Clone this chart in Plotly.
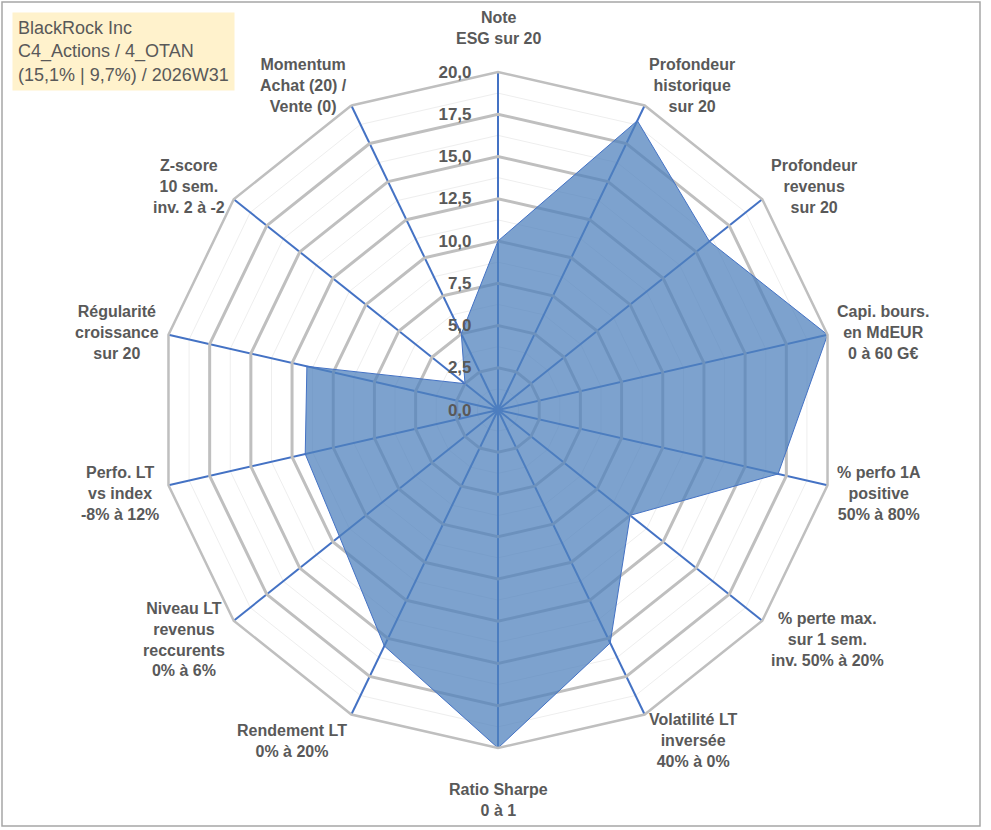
import math
import numpy as np
import plotly.graph_objects as go

# axes du radar (sens horaire depuis le haut)
categories = [
    "Note<br>ESG sur 20",
    "Profondeur<br>historique<br>sur 20",
    "Profondeur<br>revenus<br>sur 20",
    "Capi. bours.<br>en MdEUR<br>0 à 60 G€",
    "% perfo 1A<br>positive<br>50% à 80%",
    "% perte max.<br>sur 1 sem.<br>inv. 50% à 20%",
    "Volatilité LT<br>inversée<br>40% à 0%",
    "Ratio Sharpe<br>0 à 1",
    "Rendement LT<br>0% à 20%",
    "Niveau LT<br>revenus<br>reccurents<br>0% à 6%",
    "Perfo. LT<br>vs index<br>-8% à 12%",
    "Régularité<br>croissance<br>sur 20",
    "Z-score<br>10 sem.<br>inv. 2 à -2",
    "Momentum<br>Achat (20) /<br>Vente (0)",
]
scores = [10, 19, 16, 20, 17, 10, 15.3, 20, 15.5, 12, 11.7, 11.6, 2.5, 5]

title_lines = ["BlackRock Inc", "C4_Actions / 4_OTAN", "(15,1% | 9,7%) / 2026W31"]

W, H = 991, 830


def px(sx):
    return sx / W


def py(sy):
    return 1 - sy / H


cx, cy, R = 498, 410, 338  # centre et rayon à l'écran
dom_x = [px(cx - R), px(cx + R)]
dom_y = [py(cy + R), py(cy - R)]

TXT = "#595959"
GRAY = "#BFBFBF"
BLUE = "#4472C4"

fig = go.Figure()

r_closed = scores + scores[:1]
theta_closed = categories + categories[:1]

fig.add_trace(go.Scatterpolar(
    r=r_closed, theta=theta_closed, subplot="polar2",
    mode="lines", fill="toself",
    fillcolor="rgba(79,129,189,0.74)",
    line=dict(color=BLUE, width=1),
    hoverinfo="skip", showlegend=False,
))
# trace invisible pour porter le quadrillage secondaire
fig.add_trace(go.Scatterpolar(
    r=[0] * len(categories), theta=categories, subplot="polar",
    mode="markers", marker=dict(opacity=0), hoverinfo="skip", showlegend=False,
))

common_ang = dict(type="category", categoryorder="array", categoryarray=categories,
                  rotation=90, direction="clockwise")

fig.update_layout(
    width=W, height=H,
    margin=dict(l=0, r=0, t=0, b=0),
    paper_bgcolor="white",
    separators=", ",
    polar=dict(
        domain=dict(x=dom_x, y=dom_y),
        gridshape="linear", bgcolor="white",
        radialaxis=dict(range=[0, 20], dtick=1.25, showticklabels=False,
                        ticks="", showline=False, gridcolor="#EEEEEE", gridwidth=1),
        angularaxis=dict(**common_ang, showticklabels=False, ticks="",
                         showline=False, showgrid=False),
    ),
    polar2=dict(
        domain=dict(x=dom_x, y=dom_y),
        gridshape="linear", bgcolor="rgba(0,0,0,0)",
        radialaxis=dict(range=[0, 20], dtick=2.5, tickformat=".1f", angle=90,
                        tickangle=90, side="counterclockwise",
                        ticks="outside", ticklen=20, tickcolor="rgba(0,0,0,0)",
                        showline=False, gridcolor=GRAY, gridwidth=2.5,
                        tickfont=dict(family="Liberation Sans", size=17,
                                      color=TXT, weight="bold")),
        angularaxis=dict(**common_ang, ticks="", showticklabels=False,
                         showline=True, linecolor=GRAY, linewidth=2.5,
                         gridcolor=BLUE, gridwidth=1.5),
    ),
)

# libellés des axes, centrés ligne par ligne comme dans Excel
n = len(categories)
RX_LAB, RY_LAB = 331, 343
for i, lab in enumerate(categories):
    phi = math.radians(i * 360 / n)
    s, c = math.sin(phi), math.cos(phi)
    vx, vy = cx + RX_LAB * s, cy - RY_LAB * c
    if abs(s) < 0.1:
        x, xa = vx, "center"
        y = vy - (39 if c > 0 else -47)
    else:
        gap = float(np.interp(abs(s), [0.43, 0.78, 0.975], [5, 12, 14]))
        x = vx + gap * (1 if s > 0 else -1)
        y = vy + 3 - 21 * c
        xa = "left" if s > 0 else "right"
    fig.add_annotation(
        xref="paper", yref="paper", x=px(x), y=py(y),
        xanchor=xa, yanchor="middle", align="center",
        text=lab, showarrow=False,
        font=dict(family="Liberation Sans", size=16, color=TXT, weight="bold"),
    )

# cartouche en haut à gauche
fig.add_annotation(
    xref="paper", yref="paper", x=px(12), y=py(12),
    xanchor="left", yanchor="top", align="left",
    text="<br>".join(title_lines), showarrow=False,
    font=dict(family="Liberation Sans", size=18, color=TXT),
    bgcolor="#FFF2CC", borderpad=5,
)

# cadre du graphique
fig.add_shape(type="rect", xref="paper", yref="paper",
              x0=px(2), x1=px(980), y0=py(826), y1=py(2),
              line=dict(color="#A6A6A6", width=1.5), layer="below")

# la page par défaut a une marge de 8 px : on la supprime
fig.write_html("out.html", config={"displayModeBar": False},
               post_script="document.body.style.margin='0px';")
